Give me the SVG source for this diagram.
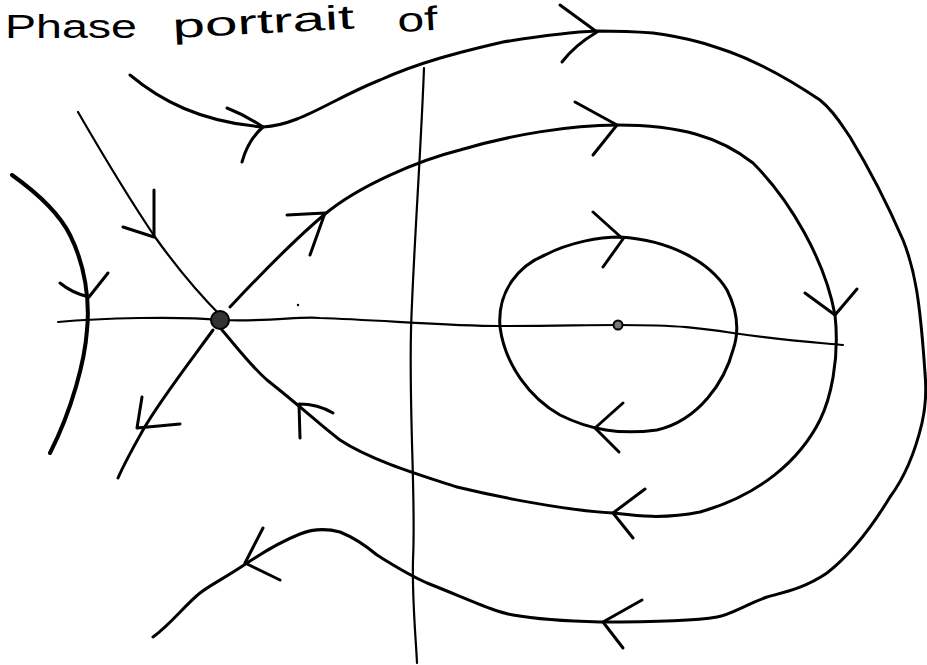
<svg xmlns="http://www.w3.org/2000/svg" width="927" height="665" viewBox="0 0 927 665">
<style>
.t{fill:none;stroke:#000;stroke-width:3;stroke-linecap:round;stroke-linejoin:round}
.ax{fill:none;stroke:#000;stroke-width:2.2;stroke-linecap:round;stroke-linejoin:round}
.ar{fill:none;stroke:#000;stroke-width:3;stroke-linecap:round;stroke-linejoin:round}
.lbl{font-family:"Liberation Sans",Arial,sans-serif;font-size:34px;fill:#000}
</style>
<rect width="927" height="665" fill="#fff"/>
<g id="title">
<text class="lbl" x="5" y="38" textLength="132" lengthAdjust="spacingAndGlyphs">Phase</text>
<text class="lbl" x="173" y="38" textLength="182" lengthAdjust="spacingAndGlyphs" transform="rotate(-3 173 38)">portrait</text>
<text class="lbl" x="398" y="32" textLength="40" lengthAdjust="spacingAndGlyphs" transform="rotate(-3 398 32)">of</text>
</g>
<g id="connectors">
<path id="y-axis" class="ax" d="M424,68 C421,150 413,260 411,330 C409,420 416,500 413,560 C412,600 416,640 417,663"/>
<path id="x-axis" class="ax" d="M58,322 C100,318 180,316 220,320 C270,322 300,316 320,318 C380,320 450,326 500,326 C560,326 580,325 618,325 C680,325 700,328 733,333 C780,340 810,342 843,345"/>
<path id="left-curve" class="t" d="M12,175 C40,195 60,215 70,235 C85,265 90,300 87,330 C85,360 72,410 50,453" style="stroke-width:4"/>
<path class="ar" d="M60,283 Q72,293 89,297 L108,273"/>
<path id="stable-in" class="ax" d="M78,112 C100,150 130,200 155,237 C175,265 200,295 222,317"/>
<path class="ar" d="M154,190 L154,237 L123,227"/>
<path id="unstable-out" class="t" d="M213,330 C195,355 160,400 143,430 C133,448 125,462 118,478"/>
<path class="ar" d="M142,397 L137,428 L180,424"/>
<path id="separatrix" class="t" d="M230,307 C260,275 300,235 325,214 C360,185 420,160 460,150 C510,135 570,125 617,125 C680,125 720,137 753,163 C790,200 825,260 835,315 C840,360 830,400 820,420 C800,460 760,495 700,512 C660,520 630,515 613,513 C560,510 490,495 457,487 C420,475 370,460 340,440 C320,425 305,410 267,380 C250,365 235,345 222,330"/>
<path class="ar" d="M287,215 L325,213 L310,255"/>
<path class="ar" d="M575,102 L617,125 L593,155"/>
<path class="ar" d="M805,293 L835,315 L857,289"/>
<path class="ar" d="M645,489 L613,513 L633,538"/>
<path class="ar" d="M300,438 L299,404 Q318,404 333,413"/>
<path id="inner-orbit" class="t" d="M620,237 C670,240 710,262 727,290 C737,310 740,330 733,350 C725,380 700,420 657,430 C620,435 590,430 560,415 C530,398 505,365 500,327 C497,290 520,265 545,255 C570,242 600,237 620,237 Z"/>
<path class="ar" d="M593,212 L623,239 L603,267"/>
<path class="ar" d="M623,403 L595,428 L619,452"/>
<path id="outer-orbit" class="t" d="M130,75 C160,100 200,122 263,127 C300,125 330,100 380,80 C420,62 460,52 503,42 C540,36 570,32 597,31 C620,31 640,32 653,33 C690,38 710,45 730,52 C760,63 790,80 820,100 C835,112 845,130 850,137 C870,170 890,210 903,240 C915,270 920,300 925,373 C927,395 925,410 922,423 C918,440 910,470 890,497 C870,530 850,555 827,573 C805,588 785,592 767,597 C745,605 730,615 717,617 C700,620 650,622 600,622 C560,621 530,618 513,615 C495,612 470,600 427,583 C405,573 390,563 377,555 C365,545 355,538 340,532 C325,528 310,530 300,534 C280,542 262,553 247,563 C225,578 210,585 200,593 C185,605 170,625 153,637"/>
<path class="ar" d="M227,108 Q245,115 263,127 Q248,140 242,162"/>
<path class="ar" d="M560,5 L597,32 Q575,45 562,62"/>
<path class="ar" d="M642,600 L603,622 L623,648"/>
<path class="ar" d="M263,528 L245,563 L280,580"/>
</g>
<g id="saddle">
<circle cx="220" cy="320" r="9" fill="#333" stroke="#000" stroke-width="2"/>
</g>
<g id="center">
<circle cx="618" cy="325" r="4.5" fill="#777" stroke="#000" stroke-width="2"/>
</g>
<circle cx="298" cy="305" r="1.2" fill="#000"/>
</svg>
